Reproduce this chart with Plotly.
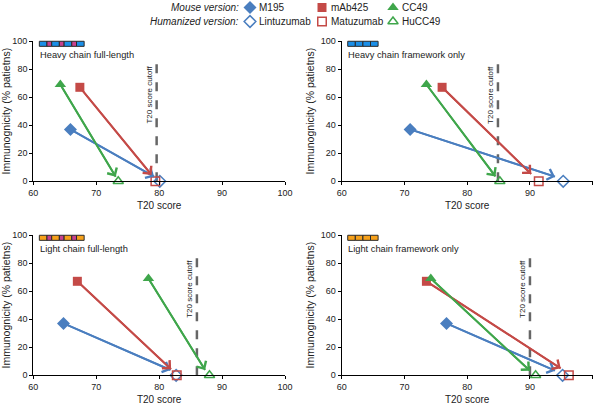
import plotly.graph_objects as go

# ---------------- data ----------------
panels = ["Heavy chain full-length", "Heavy chain framework only",
          "Light chain full-length", "Light chain framework only"]
antibodies_mouse = ["M195", "mAb425", "CC49"]
antibodies_human = ["Lintuzumab", "Matuzumab", "HuCC49"]

immuno_mouse = [37, 67, 69]          # % patients, mouse version
immuno_human = [0, 0, 0]             # % patients, humanized version

# T20 scores per panel: [M195, mAb425, CC49]
t20_mouse = {
    "Heavy chain full-length":    [65.9, 67.4, 64.3],
    "Heavy chain framework only": [70.9, 76.0, 73.5],
    "Light chain full-length":    [64.8, 67.0, 78.3],
    "Light chain framework only": [76.7, 73.5, 74.2],
}
t20_human = {
    "Heavy chain full-length":    [80.1, 79.4, 73.5],
    "Heavy chain framework only": [95.3, 91.4, 85.2],
    "Light chain full-length":    [82.7, 82.8, 88.0],
    "Light chain framework only": [95.2, 96.2, 90.9],
}
# arrow tips (x, y) per panel
arrow_tip_x = {
    "Heavy chain full-length":    [79.2, 78.8, 73.1],
    "Heavy chain framework only": [94.0, 90.2, 84.5],
    "Light chain full-length":    [81.8, 81.9, 87.3],
    "Light chain framework only": [94.0, 94.9, 90.0],
}
arrow_tip_y = {
    "Heavy chain full-length":    [3.3, 4.5, 3.3],
    "Heavy chain framework only": [3.3, 5.2, 3.5],
    "Light chain full-length":    [3.8, 4.3, 3.8],
    "Light chain framework only": [3.3, 5.0, 3.3],
}
cutoffs = [79.6, 84.9, 86.0, 90.0]
cutoff_top = 84
x_ticks = [60, 70, 80, 90, 100]
y_ticks = [0, 20, 40, 60, 80, 100]
cutoff_label = "T20 score cutoff"

# ---------------- styles ----------------
colors = ["#4a7ebf", "#c44a47", "#3fa64b"]
symbols = ["diamond", "square", "triangle-up"]
filled_sizes = [10, 9, 10]
open_sizes = [9, 8.5, 9]
strip_colors = {
    "Heavy chain full-length":    ["#1a8fe8", "#c8418f"],
    "Heavy chain framework only": ["#1a8fe8", None],
    "Light chain full-length":    ["#f7a11a", "#c8418f"],
    "Light chain framework only": ["#f7a11a", None],
}
FONT = "Arial, Liberation Sans, Helvetica, sans-serif"
W, H = 600, 407

# pixel layout of plot areas
col_px = [(33.3, 285.0), (341.7, 592.7)]
row_px = [(41.0, 181.3), (235.0, 375.3)]

fig = go.Figure()
layout = dict(width=W, height=H, margin=dict(l=0, r=0, t=0, b=0, autoexpand=False),
              paper_bgcolor="white", plot_bgcolor="rgba(0,0,0,0)",
              showlegend=False, font=dict(family=FONT, color="#222"))
shapes = []
annotations = []

for i, name in enumerate(panels):
    r, c = divmod(i, 2)
    n = i + 1
    xa = "x" if n == 1 else f"x{n}"
    ya = "y" if n == 1 else f"y{n}"
    x0p, x1p = col_px[c]
    y0p, y1p = row_px[r]
    layout[f"xaxis{'' if n == 1 else n}"] = dict(
        domain=[x0p / W, x1p / W], range=[60, 100], anchor=ya, automargin=False,
        tickvals=x_ticks, ticks="outside", ticklen=3, tickcolor="#000",
        showline=True, linecolor="#000", linewidth=1.2, showgrid=False,
        zeroline=False, tickfont=dict(size=9, color="#222"),
        title=dict(text="T20 score", font=dict(size=10, color="#222"), standoff=4),
        fixedrange=True)
    layout[f"yaxis{'' if n == 1 else n}"] = dict(
        domain=[(H - y1p) / H, (H - y0p) / H], range=[0, 100], anchor=xa, automargin=False,
        tickvals=y_ticks, ticks="outside", ticklen=3, tickcolor="#000",
        showline=True, linecolor="#000", linewidth=1.2, showgrid=False,
        zeroline=False, tickfont=dict(size=9, color="#222"),
        title=dict(text="Immunognicity (% patietns)", font=dict(size=10.5, color="#222"),
                   standoff=4),
        fixedrange=True)

    # cutoff line
    shapes.append(dict(type="line", xref=xa, yref=ya, x0=cutoffs[i], x1=cutoffs[i],
                       y0=0, y1=cutoff_top, line=dict(color="#666", width=2.5, dash="dash"),
                       layer="below"))
    annotations.append(dict(text=cutoff_label, xref=xa, yref=ya, x=cutoffs[i], y=cutoff_top,
                            xanchor="right", yanchor="top", textangle=-90, showarrow=False,
                            xshift=-1, font=dict(size=8, color="#222")))
    # panel label
    annotations.append(dict(text=name, xref=f"{xa} domain", yref=f"{ya} domain",
                            x=0.018, y=0.90, xanchor="left", yanchor="middle",
                            showarrow=False, font=dict(size=9.3, color="#222")))
    # strip icon
    fr_col, cdr_col = strip_colors[name]
    if cdr_col:
        segs = [fr_col, cdr_col, fr_col, cdr_col, fr_col, cdr_col, fr_col]
        widths = [1.6, 1.0, 1.6, 1.0, 1.6, 1.0, 1.6]
        total_w = 0.178
    else:
        segs = [fr_col] * 4
        widths = [1.0] * 4
        total_w = 0.121
    sx = 0.024
    unit = total_w / sum(widths)
    for col, w in zip(segs, widths):
        shapes.append(dict(type="rect", xref=f"{xa} domain", yref=f"{ya} domain",
                           x0=sx, x1=sx + w * unit, y0=0.962, y1=0.998,
                           fillcolor=col, line=dict(color="#2a2a2a", width=1)))
        sx += w * unit

    # arrows: shaft as line trace, head as annotation arrow
    for k in range(3):
        fig.add_trace(go.Scatter(x=[t20_mouse[name][k], arrow_tip_x[name][k]],
                                 y=[immuno_mouse[k], arrow_tip_y[name][k]],
                                 xaxis=xa, yaxis=ya, mode="lines", hoverinfo="skip",
                                 line=dict(color=colors[k], width=2)))
        annotations.append(dict(text="", xref=xa, yref=ya, axref=xa, ayref=ya,
                                x=arrow_tip_x[name][k], y=arrow_tip_y[name][k],
                                ax=t20_mouse[name][k], ay=immuno_mouse[k],
                                showarrow=True, arrowhead=4, arrowsize=1.2,
                                arrowwidth=1.8, arrowcolor=colors[k], standoff=0,
                                startstandoff=0, font=dict(size=1)))
    # markers
    for k in range(3):
        fig.add_trace(go.Scatter(x=[t20_mouse[name][k]], y=[immuno_mouse[k]], xaxis=xa, yaxis=ya,
                                 mode="markers", cliponaxis=False,
                                 marker=dict(symbol=symbols[k], size=filled_sizes[k],
                                             color=colors[k], line=dict(width=0))))
        fig.add_trace(go.Scatter(x=[t20_human[name][k]], y=[immuno_human[k]], xaxis=xa, yaxis=ya,
                                 mode="markers", cliponaxis=False,
                                 marker=dict(symbol=symbols[k] + "-open", size=open_sizes[k],
                                             color=colors[k], line=dict(width=1.5, color=colors[k]))))

# ---------------- legend (overlay axis in pixel units, top strip only) ----------------
LEG_H = 30
layout["xaxis5"] = dict(domain=[0, 1], range=[0, W], visible=False, fixedrange=True,
                        anchor="y5", automargin=False)
layout["yaxis5"] = dict(domain=[(H - LEG_H) / H, 1], range=[LEG_H, 0], visible=False,
                        fixedrange=True, anchor="x5", automargin=False)
leg_x = [250, 322, 393]
leg_y = [7.5, 21.5]
leg_rows = [(antibodies_mouse, "", filled_sizes), (antibodies_human, "-open", open_sizes)]
for row, (names, suffix, sizes) in enumerate(leg_rows):
    for k in range(3):
        fig.add_trace(go.Scatter(x=[leg_x[k]], y=[leg_y[row]], xaxis="x5", yaxis="y5",
                                 mode="markers", cliponaxis=False,
                                 marker=dict(symbol=symbols[k] + suffix, size=sizes[k],
                                             color=colors[k],
                                             line=dict(width=1.5 if suffix else 0,
                                                       color=colors[k]))))
        annotations.append(dict(text=names[k], xref="x5", yref="y5", x=leg_x[k], y=leg_y[row],
                                xshift=7, xanchor="left", yanchor="middle", showarrow=False,
                                font=dict(size=10, color="#222")))
annotations.append(dict(text="<i>Mouse version:</i>", xref="paper", yref="paper",
                        x=241 / W, y=(H - leg_y[0]) / H, xanchor="right", yanchor="middle",
                        showarrow=False, font=dict(size=10, color="#222")))
annotations.append(dict(text="<i>Humanized version:</i>", xref="paper", yref="paper",
                        x=241 / W, y=(H - leg_y[1]) / H, xanchor="right", yanchor="middle",
                        showarrow=False, font=dict(size=10, color="#222")))

layout["shapes"] = shapes
layout["annotations"] = annotations
fig.update_layout(**layout)
fig.write_html("out.html", config={"displayModeBar": False},
               post_script="document.body.style.margin='0';document.body.style.overflow='hidden';")
